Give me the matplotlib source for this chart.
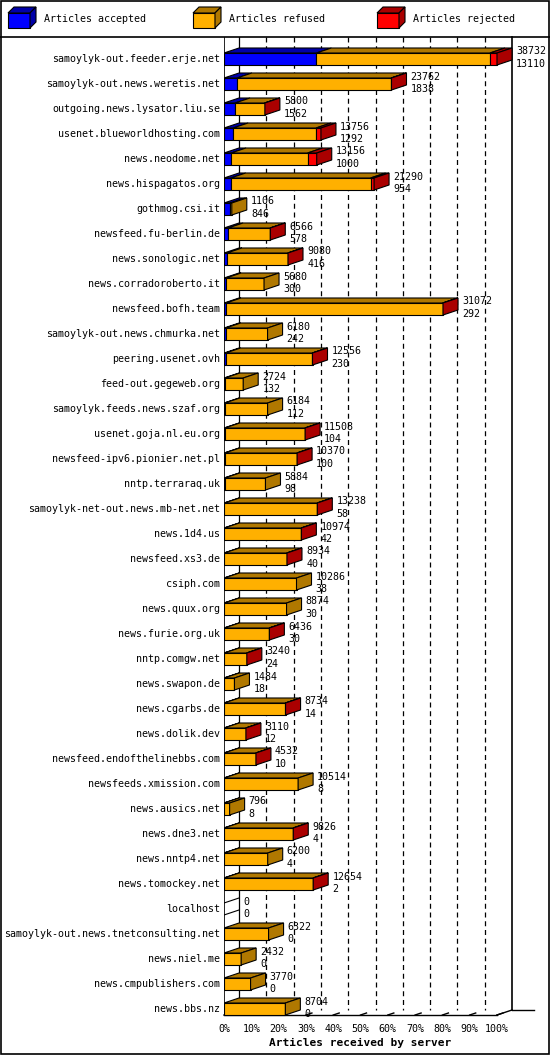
import matplotlib
matplotlib.use("Agg")
import matplotlib.pyplot as plt
from matplotlib.patches import Polygon, Rectangle

servers = ["samoylyk-out.feeder.erje.net","samoylyk-out.news.weretis.net","outgoing.news.lysator.liu.se",
 "usenet.blueworldhosting.com","news.neodome.net","news.hispagatos.org","gothmog.csi.it",
 "newsfeed.fu-berlin.de","news.sonologic.net","news.corradoroberto.it","newsfeed.bofh.team",
 "samoylyk-out.news.chmurka.net","peering.usenet.ovh","feed-out.gegeweb.org","samoylyk.feeds.news.szaf.org",
 "usenet.goja.nl.eu.org","newsfeed-ipv6.pionier.net.pl","nntp.terraraq.uk","samoylyk-net-out.news.mb-net.net",
 "news.1d4.us","newsfeed.xs3.de","csiph.com","news.quux.org","news.furie.org.uk","nntp.comgw.net",
 "news.swapon.de","news.cgarbs.de","news.dolik.dev","newsfeed.endofthelinebbs.com","newsfeeds.xmission.com",
 "news.ausics.net","news.dne3.net","news.nntp4.net","news.tomockey.net","localhost",
 "samoylyk-out.news.tnetconsulting.net","news.niel.me","news.cmpublishers.com","news.bbs.nz"]
offered = [38732,23762,5800,13756,13156,21290,1106,6566,9080,5680,31072,6180,12556,2724,6184,11508,10370,5884,
 13238,10974,8934,10286,8874,6436,3240,1484,8734,3110,4532,10514,796,9826,6200,12654,0,6322,2432,3770,8704]
accepted = [13110,1838,1562,1292,1000,954,846,578,416,300,292,242,230,132,112,104,100,98,58,42,40,38,30,30,24,
 18,14,12,10,8,8,4,4,2,0,0,0,0,0]
rejected = [1000,60,40,700,1300,500,0,30,30,0,50,0,30,0,0,30,30,0,30,30,30,0,0,30,20,0,30,20,20,0,0,30,0,30,0,0,0,0,0]
pct_ticks = [0,10,20,30,40,50,60,70,80,90,100]

W, H = 550, 1055
fig = plt.figure(figsize=(W/100, H/100), dpi=100)
font = dict(family="DejaVu Sans Mono", fontsize=7.2)

colors = [("#0000ff", "#0000a8"), ("#ffb000", "#b07800"), ("#ff0000", "#aa0000")]

px_per_pct = 2.73
left_px, right_px, top_px, bot_px = 224, 513, 37, 1020
row0_px, pitch = 59, 25
ax = fig.add_axes([left_px/W, 1-bot_px/H, (right_px-left_px)/W, (bot_px-top_px)/H])
ax.set_xlim(0, (right_px-left_px)/px_per_pct)
ax.set_ylim((bot_px-row0_px)/pitch, (top_px-row0_px)/pitch)
ax.axis("off")

MAX = max(offered)
dx, dy = 15/px_per_pct, 5/pitch
bdx = 15/px_per_pct
bh = 12/pitch
n = len(servers)
floor_y = (1010-row0_px)/pitch
front_y = floor_y + dy

top = ax.get_ylim()[1]
for p in pct_ticks[1:-1]:
    ax.plot([p+bdx, p+bdx], [top, floor_y], color="black", ls=(0,(4,3)), lw=0.9, zorder=1)
ax.plot([bdx, bdx], [top, floor_y], color="black", lw=0.9, zorder=1)
ax.plot([0, 0], [top, front_y], color="black", lw=1.2, zorder=1)
ax.plot([100+bdx, 100+bdx], [top, floor_y], color="black", lw=1.2, zorder=1, clip_on=False)
ax.plot([0, 100], [front_y, front_y], color="black", lw=1, zorder=1, clip_on=False)
ax.plot([100, 100+bdx], [front_y, floor_y], color="black", lw=1, zorder=1, clip_on=False)
ax.plot([100+bdx, 100+bdx+8], [floor_y, floor_y], color="black", lw=1, zorder=1, clip_on=False)
for p in pct_ticks:
    ax.plot([p, p+bdx*0.4], [front_y, front_y-dy*0.4], color="black", lw=1, clip_on=False)
    ax.text(p, front_y+0.55, f"{p}%", ha="center", va="center", clip_on=False, **font)
ax.text(50, front_y+1.1, "Articles received by server", ha="center", va="center",
        family="DejaVu Sans Mono", fontsize=8, fontweight="bold", clip_on=False)

for i in range(n):
    vals = [accepted[i], offered[i]-accepted[i]-rejected[i], rejected[i]]
    x = 0
    last = None
    y0 = i - bh/2
    for k, v in enumerate(vals):
        if v <= 0:
            continue
        w = v/MAX*100
        ax.add_patch(Rectangle((x, y0), w, bh, facecolor=colors[k][0], edgecolor="black", lw=0.8, zorder=3))
        ax.add_patch(Polygon([(x, y0), (x+w, y0), (x+w+dx, y0-dy), (x+dx, y0-dy)], closed=True,
                             facecolor=colors[k][1], edgecolor="black", lw=0.8, zorder=3))
        x += w
        last = k
    if last is not None:
        ax.add_patch(Polygon([(x, y0), (x+dx, y0-dy), (x+dx, y0+bh-dy), (x, y0+bh)], closed=True,
                             facecolor=colors[last][1], edgecolor="black", lw=0.8, zorder=3))
    else:
        ax.plot([0, dx], [y0, y0-dy], color="black", lw=0.8)
        ax.plot([0, dx], [y0+bh, y0+bh-dy], color="black", lw=0.8)
    tx = x + dx + 1.5
    ax.text(tx, i-0.3, str(offered[i]), ha="left", va="center", clip_on=False, zorder=5, **font)
    ax.text(tx, i+0.2, str(accepted[i]), ha="left", va="center", clip_on=False, zorder=5, **font)
    ax.text(-1.5, i, servers[i], ha="right", va="center", clip_on=False, **font)

lg = fig.add_axes([0, 0, 1, 1], zorder=-1)
lg.set_xlim(0, W); lg.set_ylim(H, 0); lg.axis("off")
lg.add_patch(Rectangle((0.5, 0.5), W-1.5, H-1.5, fill=False, edgecolor="black", lw=1.2))
lg.plot([0, W], [37, 37], color="black", lw=1.2)
labels = ["Articles accepted", "Articles refused", "Articles rejected"]
for k, (xl, lab) in enumerate(zip([8, 193, 377], labels)):
    lg.add_patch(Rectangle((xl, 13), 22, 15, facecolor=colors[k][0], edgecolor="black", lw=0.8))
    lg.add_patch(Polygon([(xl, 13), (xl+22, 13), (xl+28, 7), (xl+6, 7)], facecolor=colors[k][1], edgecolor="black", lw=0.8))
    lg.add_patch(Polygon([(xl+22, 13), (xl+28, 7), (xl+28, 22), (xl+22, 28)], facecolor=colors[k][1], edgecolor="black", lw=0.8))
    lg.text(xl+36, 19, lab, ha="left", va="center", **font)

fig.savefig("out.png", dpi=100)
